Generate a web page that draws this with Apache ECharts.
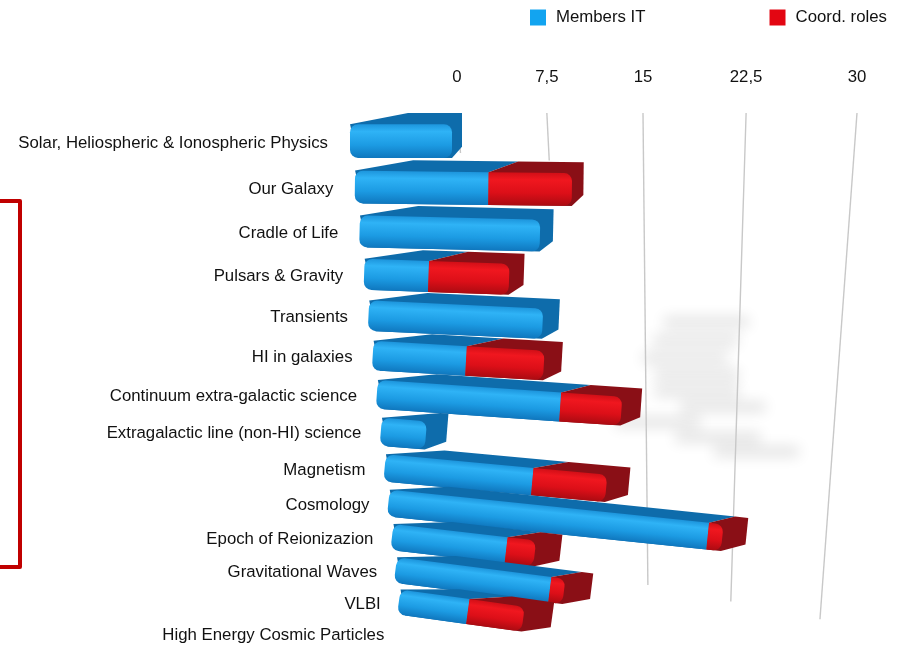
<!DOCTYPE html>
<html>
<head>
<meta charset="utf-8">
<script src="https://cdn.jsdelivr.net/npm/echarts@6/dist/echarts.min.js"></script>
<style>
  html, body { margin: 0; padding: 0; background: #ffffff; }
  #chart { width: 905px; height: 645px; }
</style>
</head>
<body>
<div id="chart"></div>
<script>
// Science working groups and head counts
const categories = [
  'Solar, Heliospheric & Ionospheric Physics',
  'Our Galaxy',
  'Cradle of Life',
  'Pulsars & Gravity',
  'Transients',
  'HI in galaxies',
  'Continuum extra-galactic science',
  'Extragalactic line (non-HI) science',
  'Magnetism',
  'Cosmology',
  'Epoch of Reionizazion',
  'Gravitational Waves',
  'VLBI',
  'High Energy Cosmic Particles'
];
const membersIT  = [6, 8, 11, 4, 11, 6, 12, 3, 10, 22, 8, 11, 5, 0];
const coordRoles = [0, 5, 0, 5, 0, 5, 4, 0, 5, 1, 2, 1, 4, 0];
const seriesNames = ['Members IT', 'Coord. roles'];
const axisTicks = [0, 7.5, 15, 22.5, 30];

// ---- perspective look of the slab chart ----
const DEPTH = 0.238;      // recession of the rows towards the bottom
const VPX = 621;          // horizontal vanishing x of the bar plane
const WALL = 0.1309;      // foreshortening of the back wall scale
const TILT = 0.15;        // downward tilt of the far rows
const SLAB = 45;          // slab height (front + top) on the nearest row
const RADIUS = 8;
const FONT = '"Liberation Sans", Arial, Helvetica, sans-serif';
const FONT_SIZE = 16.8;

const palette = [
  { front: ['#1d95dc', '#2fb3f6', '#1c9be3', '#0f77be'], dark: '#0e6cab', legend: '#12a4f0' },
  { front: ['#d10f17', '#f0171f', '#dc0f18', '#ab0b12'], dark: '#8a0f16', legend: '#e30612' }
];

const rowDepth = k => k / (categories.length - 1);
const rowScale = u => 1 / (1 + DEPTH * u);
const rowWarp = u => u * (1 + DEPTH) * rowScale(u);
const wallWarp = u => u * (1 - WALL) / (1 - WALL * u);

// stacked segments: [row, start, end, total]
const totals = membersIT.map((m, i) => m + coordRoles[i]);
const blueData = membersIT.map((m, i) => [i, 0, m, totals[i]]);
const redData = coordRoles.map((c, i) => [i, membersIT[i], membersIT[i] + c, totals[i]]);

function gradient(stops) {
  return new echarts.graphic.LinearGradient(0, 0, 0, 1, [
    { offset: 0, color: stops[0] },
    { offset: 0.22, color: stops[1] },
    { offset: 0.62, color: stops[2] },
    { offset: 1, color: stops[3] }
  ]);
}

// screen geometry of one row of the slab plane
function rowGeometry(params, api, row, values) {
  const cs = params.coordSys;
  const base = api.coord([0, row]);
  const u = (base[1] - cs.y) / cs.height;
  const w = rowScale(u);
  const px = x => VPX + (x - VPX) * w;
  return {
    u, w,
    yc: cs.y + cs.height * rowWarp(u),
    xs: values.map(v => px(api.coord([v, row])[0]))
  };
}

function slabItem(pal, layer) {
  return function (params, api) {
    const row = api.value(0), v0 = api.value(1), v1 = api.value(2), total = api.value(3);
    if (!(v1 > v0)) return null;
    const g = rowGeometry(params, api, row, [0, total, v0, v1]);
    const [xL, xR, x0, x1] = g.xs;
    const yc = g.yc;
    const slab = SLAB * Math.pow(g.w, 1.5);
    const face = slab * 0.75, top = slab * 0.25;
    const dL = 58, dR = 10 + 20 * g.u;
    const d = x => dL + (dR - dL) * (x - xL) / Math.max(1, xR - xL);
    const yt = yc - face / 2, yb = yc + face / 2;
    const first = v0 === 0;
    const last = v1 >= total;
    const pts = [[x0, yt], [x0 + d(x0), yt - top], [x1 + d(x1), yt - top]];
    if (last) {
      pts.push([x1 + d(x1), yb - top], [x1, yb]);
    } else {
      pts.push([x1, yt], [x1, yb]);
    }
    pts.push([first ? x0 + RADIUS : x0, yb]);
    return {
      type: 'group',
      originX: xL, originY: yc,
      rotation: -Math.atan(TILT * g.u),
      children: [
        {
          type: 'polygon',
          z2: row * 10 + layer,
          shape: { points: pts },
          style: { fill: pal.dark }
        },
        {
          type: 'rect',
          z2: row * 10 + 3 + layer,
          shape: {
            x: x0, y: yt, width: x1 - x0, height: face,
            r: [first ? RADIUS : 0, last ? RADIUS : 0, last ? RADIUS : 0, first ? RADIUS : 0]
          },
          style: { fill: gradient(pal.front) }
        }
      ]
    };
  };
}

// soft shadow the slabs throw on the back wall (only the band above the long rows shows)
const SHADOW_SHIFT = 3000;
function wallShadow(params, api) {
  const row = api.value(0), total = api.value(3);
  if (!(total > 0)) return null;
  const g = rowGeometry(params, api, row, [0, total]);
  const ys = 322 + (g.yc - 187) * 0.41;
  if (ys < 318 || ys > 456) return null;
  const xEnd = 560 + 0.33 * g.xs[1];
  const xStart = xEnd - 85;
  return {
    type: 'rect',
    shape: { x: xStart - SHADOW_SHIFT, y: ys - 5, width: xEnd - xStart, height: 10 },
    style: {
      fill: '#000',
      shadowColor: 'rgba(0,0,0,0.12)', shadowBlur: 14,
      shadowOffsetX: SHADOW_SHIFT, shadowOffsetY: 0
    }
  };
}

// vertical rules on the back wall; the two leftmost disappear behind the slabs
function wallRule(params, api) {
  const v = api.value(0);
  const cs = params.coordSys;
  const xl = api.coord([v, 0])[0];
  const xTop = cs.x + cs.width * wallWarp((xl - cs.x) / cs.width);
  let xBot = 668 + (xTop - 668) * 0.804;
  let yBot = 585 + (xTop - 643) * 0.16;
  if (v < 15) {
    yBot = cs.y + 40 + v;
    xBot = xTop + (xBot - xTop) * (yBot - cs.y) / (585 - cs.y);
  }
  return {
    type: 'line',
    shape: { x1: xTop, y1: cs.y, x2: xBot, y2: yBot },
    style: { stroke: '#c8c8c8', lineWidth: 1.4 }
  };
}

// tick label styles following the wall foreshortening
const wallRich = {};
axisTicks.forEach((v, i) => {
  const u = v / 30;
  const shift = 400 * (wallWarp(u) - u);
  wallRich['t' + i] = {
    fontFamily: FONT, fontSize: FONT_SIZE, color: '#111',
    padding: shift < 0 ? [0, -2 * shift, 0, 0] : [0, 0, 0, 2 * shift]
  };
});

// category label styles following the row recession
const rowRich = {};
categories.forEach((c, k) => {
  const u = rowDepth(k);
  const dy = 492 * (rowWarp(u) - u);
  const right = VPX - 293 * rowScale(u);
  rowRich['c' + k] = {
    fontFamily: FONT, fontSize: FONT_SIZE, color: '#111',
    padding: [2 * dy + 4, Math.max(0, 387 - right), 0, 0]
  };
});

const chart = echarts.init(document.getElementById('chart'), null, { renderer: 'canvas' });
chart.setOption({
  animation: false,
  backgroundColor: '#ffffff',
  textStyle: { fontFamily: FONT },
  legend: {
    data: seriesNames,
    left: 525, top: 4,
    icon: 'rect', itemWidth: 16, itemHeight: 16, itemGap: 124,
    selectedMode: false,
    textStyle: { fontFamily: FONT, fontSize: FONT_SIZE, color: '#111', padding: [0, 0, 0, 5] }
  },
  grid: [
    { left: 457, width: 400, top: 113, height: 500 },
    { left: 350, width: 510, top: 141, height: 492 },
    { left: 390, width: 10, top: 141, height: 492 }
  ],
  xAxis: [
    {
      gridIndex: 0, type: 'value', min: 0, max: 30, interval: 7.5, position: 'top',
      axisLine: { show: false }, axisTick: { show: false }, splitLine: { show: false },
      axisLabel: {
        margin: 27,
        formatter: (v) => '{t' + axisTicks.indexOf(v) + '|' + String(v).replace('.', ',') + '}',
        rich: wallRich
      }
    },
    { gridIndex: 1, type: 'value', min: 0, max: 30, show: false },
    { gridIndex: 2, type: 'value', min: 0, max: 1, show: false }
  ],
  yAxis: [
    { gridIndex: 0, type: 'value', min: 0, max: 1, show: false },
    { gridIndex: 1, type: 'category', data: categories, inverse: true, boundaryGap: false, show: false },
    {
      gridIndex: 2, type: 'category', data: categories, inverse: true, boundaryGap: false,
      axisLine: { show: false }, axisTick: { show: false }, splitLine: { show: false },
      axisLabel: {
        interval: 0, margin: 3,
        formatter: (value, index) => '{c' + index + '|' + value + '}',
        rich: rowRich
      }
    }
  ],
  series: [
    {
      type: 'custom', name: 'wall shadow', xAxisIndex: 1, yAxisIndex: 1, z: 0, silent: true,
      data: blueData, encode: { x: [1, 2], y: 0 }, renderItem: wallShadow
    },
    {
      type: 'custom', name: 'rules', xAxisIndex: 0, yAxisIndex: 0, z: 1, silent: true,
      data: axisTicks.map(v => [v]), encode: { x: 0 }, renderItem: wallRule
    },
    {
      type: 'custom', name: seriesNames[0], xAxisIndex: 1, yAxisIndex: 1,
      itemStyle: { color: palette[0].legend },
      data: blueData, encode: { x: [1, 2], y: 0 }, renderItem: slabItem(palette[0], 0)
    },
    {
      type: 'custom', name: seriesNames[1], xAxisIndex: 1, yAxisIndex: 1,
      itemStyle: { color: palette[1].legend },
      data: redData, encode: { x: [1, 2], y: 0 }, renderItem: slabItem(palette[1], 1)
    }
  ],
  graphic: [
    {
      type: 'polyline', silent: true,
      shape: { points: [[-4, 201], [20, 201], [20, 567], [-4, 567]] },
      style: { stroke: '#c00000', lineWidth: 4, lineJoin: 'round', fill: null }
    }
  ]
});
</script>
</body>
</html>
